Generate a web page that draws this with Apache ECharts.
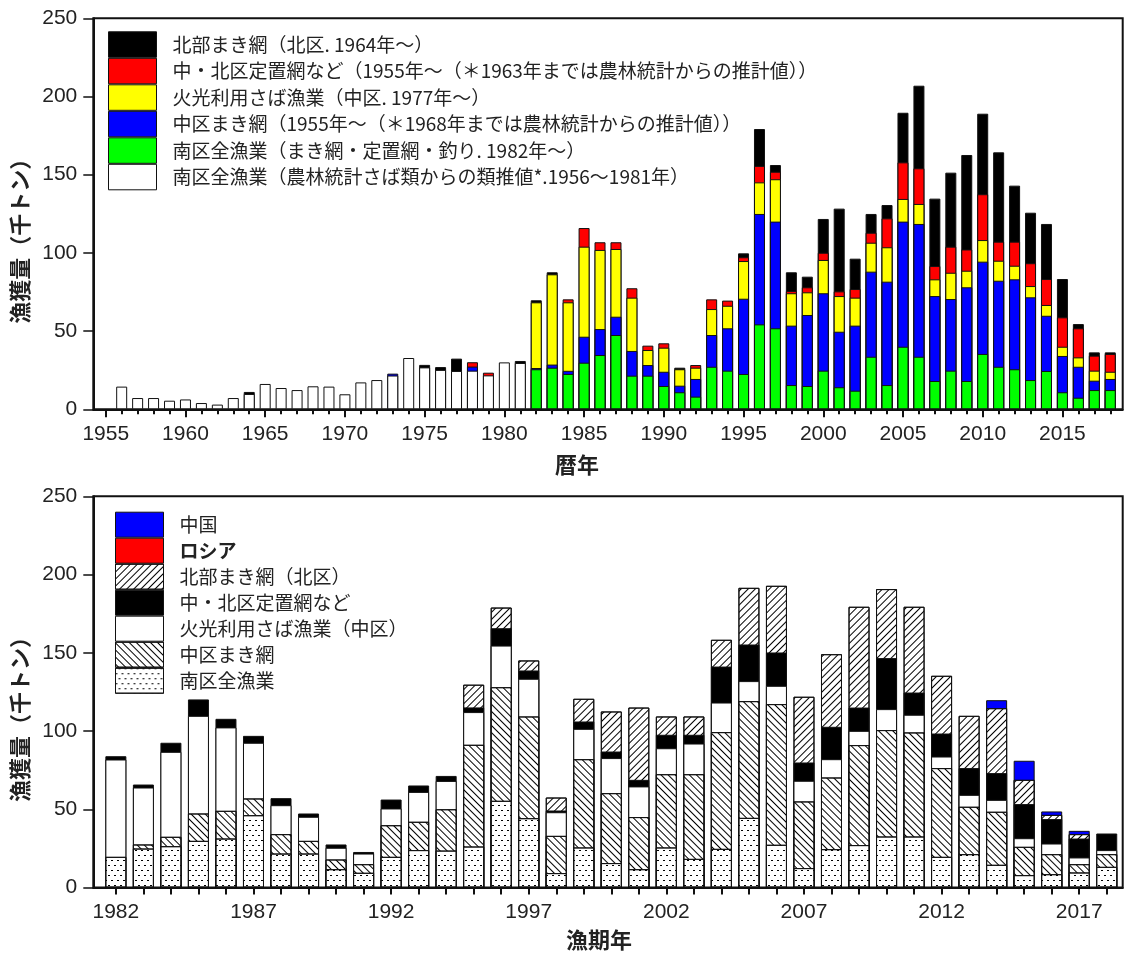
<!DOCTYPE html>
<html><head><meta charset="utf-8">
<script src="https://cdn.jsdelivr.net/npm/echarts@6/dist/echarts.min.js"></script>
<style>html,body{margin:0;padding:0;background:#fff}#c{width:1127px;height:956px}</style>
</head><body><div id="c"></div>
<script>
// ---------- Top chart (暦年) ----------
const topYears = [
  1955,1956,1957,1958,1959,1960,1961,1962,1963,1964,
  1965,1966,1967,1968,1969,1970,1971,1972,1973,1974,
  1975,1976,1977,1978,1979,1980,1981,1982,1983,1984,
  1985,1986,1987,1988,1989,1990,1991,1992,1993,1994,
  1995,1996,1997,1998,1999,2000,2001,2002,2003,2004,
  2005,2006,2007,2008,2009,2010,2011,2012,2013,2014,
  2015,2016,2017,2018];
const topTickLabels = [1955,1960,1965,1970,1975,1980,1985,1990,1995,2000,2005,2010,2015];
const topMajorTicks = [1955,1960,1965,1970,1975,1980,1985,1990,1995,2000,2005,2010,2015];

// 南区全漁業(農林統計さば類からの類推値, 1956-1981) – white
const topSouthEst = [
  null,14.5,7.2,7.2,5.5,6.3,4.0,3.0,7.2,9.8,
  16.2,13.6,12.3,14.7,14.5,9.6,17.2,18.7,21.6,32.8,
  26.8,25.2,24.5,24.7,21.7,30.0,29.6,null,null,null,
  null,null,null,null,null,null,null,null,null,null,
  null,null,null,null,null,null,null,null,null,null,
  null,null,null,null,null,null,null,null,null,null,
  null,null,null,null];
// 南区全漁業(まき網・定置網・釣り, 1982-) – green
const topSouth = [
  null,null,null,null,null,null,null,null,null,null,
  null,null,null,null,null,null,null,null,null,null,
  null,null,null,null,null,null,null,25.6,26.6,22.6,
  29.8,34.7,47.5,21.5,21.5,14.9,10.9,8.1,27.2,24.7,
  22.6,54.3,51.8,15.5,14.9,24.7,14.1,11.9,33.6,15.5,
  40.0,33.6,18.1,24.7,18.1,35.4,27.2,25.6,18.7,24.5,
  10.9,7.4,12.3,12.3];
// 中区まき網 – blue
const topChuMaki = [
  null,null,null,null,null,null,null,null,null,null,
  null,null,null,null,null,null,null,null,1.2,null,
  null,null,null,2.6,null,null,null,0.8,2.0,2.0,
  16.6,16.6,11.7,15.8,6.8,9.1,4.2,11.3,20.3,27.1,
  48.1,70.6,68.2,38.0,45.4,49.5,35.5,41.6,54.4,66.1,
  80.0,84.9,54.3,45.8,59.9,59.0,55.0,57.5,52.9,35.3,
  23.2,19.8,6.0,7.1];
// 火光利用さば漁業 – yellow
const topKako = [
  null,null,null,null,null,null,null,null,null,null,
  null,null,null,null,null,null,null,null,null,null,
  null,null,null,null,null,null,null,42.0,57.7,43.8,
  57.6,50.6,43.3,34.1,9.6,15.4,10.5,7.2,16.6,14.4,
  24.1,20.2,27.1,20.7,14.5,21.3,22.8,17.9,18.5,22.0,
  14.5,12.8,10.7,16.8,10.6,13.8,12.8,8.7,7.2,6.9,
  5.9,6.0,6.4,4.6];
// 中・北区定置網など – red
const topTeichi = [
  null,null,null,null,null,null,null,null,null,null,
  null,null,null,null,null,null,null,null,null,null,
  null,null,null,2.8,1.7,null,null,null,null,1.9,
  11.9,4.9,4.3,6.0,2.8,2.8,null,1.7,6.2,3.3,
  2.4,10.5,4.8,1.4,3.2,4.6,3.0,5.5,6.4,18.5,
  23.4,22.8,8.5,16.7,13.6,29.3,12.2,15.4,14.6,16.6,
  18.8,18.6,9.6,11.4];
// 北部まき網 – black
const topHokubu = [
  null,null,null,null,null,null,null,null,null,1.3,
  null,null,null,null,null,null,null,null,null,null,
  1.6,1.8,7.9,null,null,null,1.3,1.3,1.3,null,
  null,null,null,null,null,null,1.0,null,null,null,
  2.5,23.6,4.3,12.0,6.8,21.6,52.9,19.4,12.0,8.5,
  31.7,52.8,43.1,47.3,60.4,51.5,57.1,35.8,32.3,35.2,
  24.5,2.7,2.1,1.0];

const topNames = [
  '北部まき網（北区. 1964年～）',
  '中・北区定置網など（1955年～（＊1963年までは農林統計からの推計値））',
  '火光利用さば漁業（中区. 1977年～）',
  '中区まき網（1955年～（＊1968年までは農林統計からの推計値））',
  '南区全漁業（まき網・定置網・釣り. 1982年～）',
  '南区全漁業（農林統計さば類からの類推値*.1956～1981年）'
];

// ---------- Bottom chart (漁期年) ----------
const botYears = [
  1982,1983,1984,1985,1986,1987,1988,1989,1990,1991,
  1992,1993,1994,1995,1996,1997,1998,1999,2000,2001,
  2002,2003,2004,2005,2006,2007,2008,2009,2010,2011,
  2012,2013,2014,2015,2016,2017,2018];
const botTickLabels = [1982,1987,1992,1997,2002,2007,2012,2017];

const botNanku = [
  19.6,24.9,26.4,29.8,31.3,46.2,21.7,21.7,11.7,9.4,
  19.6,23.9,23.6,26.2,55.4,44.3,9.2,25.6,15.6,11.7,
  25.6,18.3,24.7,44.5,27.3,12.4,24.5,27.1,32.6,32.6,
  19.6,21.3,14.5,7.9,8.5,9.6,13.2];
const botChuMaki = [
  null,2.6,6.0,17.5,17.7,10.7,12.4,8.1,6.2,5.5,
  20.2,18.1,26.4,65.0,72.6,65.0,23.8,56.4,44.7,33.3,
  46.8,54.1,74.6,74.6,89.9,42.6,45.8,63.9,68.0,66.5,
  56.7,30.3,33.9,18.1,12.8,5.3,8.1];
const botKako = [
  62.2,36.4,54.3,62.4,53.3,35.6,18.5,15.4,7.5,6.8,
  10.7,19.1,18.1,20.9,26.6,24.1,15.1,19.4,22.4,19.6,
  16.6,19.6,18.9,12.8,11.7,13.2,11.7,9.1,13.4,11.3,
  7.4,7.6,7.6,5.5,6.8,4.3,2.6];
const botTeichi = [
  2.1,1.9,5.8,10.5,5.5,4.4,4.5,2.1,2.1,1.0,
  5.7,4.1,3.2,3.0,11.1,5.3,1.1,4.7,4.2,4.2,
  8.6,5.6,23.0,23.4,21.3,11.7,20.7,14.9,32.6,14.2,
  14.7,17.1,17.1,21.8,15.6,12.1,10.6];
const botHokubu = [
  null,null,null,null,null,null,null,null,null,null,
  null,null,null,14.5,13.2,6.4,8.3,14.5,25.6,46.2,
  11.7,11.7,17.1,36.2,42.6,42.0,46.4,64.4,44.1,54.8,
  36.9,33.4,41.5,15.5,2.7,2.8,null];
const botRussia = [
  null,null,null,null,null,null,null,null,null,null,
  null,null,null,null,null,null,null,null,null,null,
  null,null,null,null,null,null,null,null,null,null,
  null,null,null,null,null,null,null];
const botChina = [
  null,null,null,null,null,null,null,null,null,null,
  null,null,null,null,null,null,null,null,null,null,
  null,null,null,null,null,null,null,null,null,null,
  null,null,5.1,12.2,2.2,2.1,null];

const botNames = ['中国','ロシア','北部まき網（北区）','中・北区定置網など','火光利用さば漁業（中区）','中区まき網','南区全漁業'];

// ---------- helpers ----------
const numFont = 'Liberation Sans, Arial, sans-serif';
const cjkFont = 'Noto Sans CJK JP, sans-serif';

function cumulativeTops(layersBottomUp) {
  const n = layersBottomUp[0].length;
  const acc = new Array(n).fill(0);
  return layersBottomUp.map(arr => arr.map((v, i) => {
    if (v == null) return null;
    acc[i] += v;
    return acc[i];
  }));
}
function toPairs(years, tops) {
  return years.map((yr, i) => tops[i] == null ? [yr, '-'] : [yr, tops[i]]);
}
const plainNum = v => String(v);

const decalHokubu = {symbol:'rect', symbolSize:1, color:'#000', dashArrayX:[1,0], dashArrayY:[1,4], rotation: -Math.PI/4};
const decalChu = {symbol:'rect', symbolSize:1, color:'#000', dashArrayX:[1,0], dashArrayY:[1,3.2], rotation: Math.PI/4};
const decalDots = {symbol:'rect', symbolSize:1, color:'#000', dashArrayX:[[2,4],[0,3,2,1]], dashArrayY:[1,4], rotation:0};

// top layers bottom-up
const topLayers = [topSouthEst, topSouth, topChuMaki, topKako, topTeichi, topHokubu];
const topTops = cumulativeTops(topLayers);
const topColors = ['#ffffff','#00ff00','#0000ff','#ffff00','#ff0000','#000000'];
const topLayerNames = [topNames[5], topNames[4], topNames[3], topNames[2], topNames[1], topNames[0]];

const botLayers = [botNanku, botChuMaki, botKako, botTeichi, botHokubu, botRussia, botChina];
const botTops = cumulativeTops(botLayers);
const botColors = ['#ffffff','#ffffff','#ffffff','#000000','#ffffff','#ff0000','#0000ff'];
const botDecals = [decalDots, decalChu, null, null, decalHokubu, null, null];
const botLayerNames = [botNames[6], botNames[5], botNames[4], botNames[3], botNames[2], botNames[1], botNames[0]];

const series = [];
// draw top layer first so lower layers cover it
for (let k = topLayers.length - 1; k >= 0; k--) {
  series.push({
    type:'bar', name: topLayerNames[k], xAxisIndex:0, yAxisIndex:0,
    barWidth:11, barGap:'-100%',
    itemStyle:{color: topColors[k], borderColor:'#111', borderWidth:1},
    data: toPairs(topYears, topTops[k])
  });
}
for (let k = botLayers.length - 1; k >= 0; k--) {
  const st = {color: botColors[k], borderColor:'#111', borderWidth:1};
  if (botDecals[k]) st.decal = botDecals[k];
  series.push({
    type:'bar', name: botLayerNames[k], xAxisIndex:2, yAxisIndex:1,
    barWidth:21, barGap:'-100%',
    itemStyle: st,
    data: toPairs(botYears, botTops[k])
  });
}

function yAxisDef(gi) {
  return {
    type:'value', gridIndex: gi, min:0, max:250, interval:50,
    axisLine:{show:true, lineStyle:{color:'#111', width:2}},
    axisTick:{show:true, inside:false, length:10, lineStyle:{color:'#111', width:1.5}},
    axisLabel:{fontSize:21, margin:16, color:'#222', fontFamily:numFont},
    splitLine:{show:false},
    name:'漁獲量（千トン）', nameLocation:'middle', nameGap:63, nameRotate:90,
    nameTextStyle:{fontSize:22, fontFamily:cjkFont, color:'#222', fontWeight:'bold', padding:[0,44,0,0]}
  };
}

const option = {
  animation:false,
  backgroundColor:'#fff',
  grid:[
    {left:93.3, top:18.3, width:1029.4, height:391, show:true, borderColor:'#111', borderWidth:2},
    {left:93.3, top:496.3, width:1029.4, height:391.2, show:true, borderColor:'#111', borderWidth:2}
  ],
  xAxis:[
    {type:'value', gridIndex:0, position:'bottom', min:1954.22, max:2018.78,
     axisLine:{show:true, lineStyle:{color:'#111', width:2}},
     axisTick:{show:true, inside:false, length:5, customValues: topYears, lineStyle:{color:'#111', width:2}},
     axisLabel:{show:true, customValues: topTickLabels, formatter: plainNum, fontSize:21, margin:14, color:'#222', fontFamily:numFont},
     splitLine:{show:false},
     name:'暦年', nameLocation:'middle', nameGap:44,
     nameTextStyle:{fontSize:22, fontFamily:cjkFont, color:'#222', fontWeight:'bold', padding:[0,62,0,0]}},
    {type:'value', gridIndex:0, position:'bottom', min:1954.22, max:2018.78,
     axisLine:{show:false},
     axisTick:{show:true, inside:false, length:8, customValues: topMajorTicks, lineStyle:{color:'#111', width:2}},
     axisLabel:{show:false}, splitLine:{show:false}},
    {type:'value', gridIndex:1, position:'bottom', min:1981.18, max:2018.58,
     axisLine:{show:true, lineStyle:{color:'#111', width:2}},
     axisTick:{show:true, inside:false, length:7, customValues: botYears, lineStyle:{color:'#111', width:2}},
     axisLabel:{show:true, customValues: botTickLabels, formatter: plainNum, fontSize:21, margin:14, color:'#222', fontFamily:numFont},
     splitLine:{show:false},
     name:'漁期年', nameLocation:'middle', nameGap:41,
     nameTextStyle:{fontSize:22, fontFamily:cjkFont, color:'#222', fontWeight:'bold', padding:[0,18,0,0]}}
  ],
  yAxis:[yAxisDef(0), yAxisDef(1)],
  legend:[
    {orient:'vertical', left:108, top:31.3, padding:0, itemWidth:48, itemHeight:25.5, itemGap:0,
     icon:'rect', selectedMode:false, data: topNames,
     itemStyle:{borderColor:'#111', borderWidth:1},
     textStyle:{fontSize:19, fontFamily:cjkFont, color:'#222', padding:[0,0,0,11]}},
    {orient:'vertical', left:115, top:511.7, padding:0, itemWidth:48, itemHeight:25, itemGap:0,
     icon:'rect', selectedMode:false,
     data: botNames.map(n => n === 'ロシア' ? {name:n, textStyle:{fontWeight:'bold'}} : n),
     itemStyle:{borderColor:'#111', borderWidth:1},
     textStyle:{fontSize:19, fontFamily:cjkFont, color:'#222', padding:[0,0,0,11]}}
  ],
  series: series
};

const chart = echarts.init(document.getElementById('c'), null, {renderer:'canvas'});
chart.setOption(option);
</script></body></html>
